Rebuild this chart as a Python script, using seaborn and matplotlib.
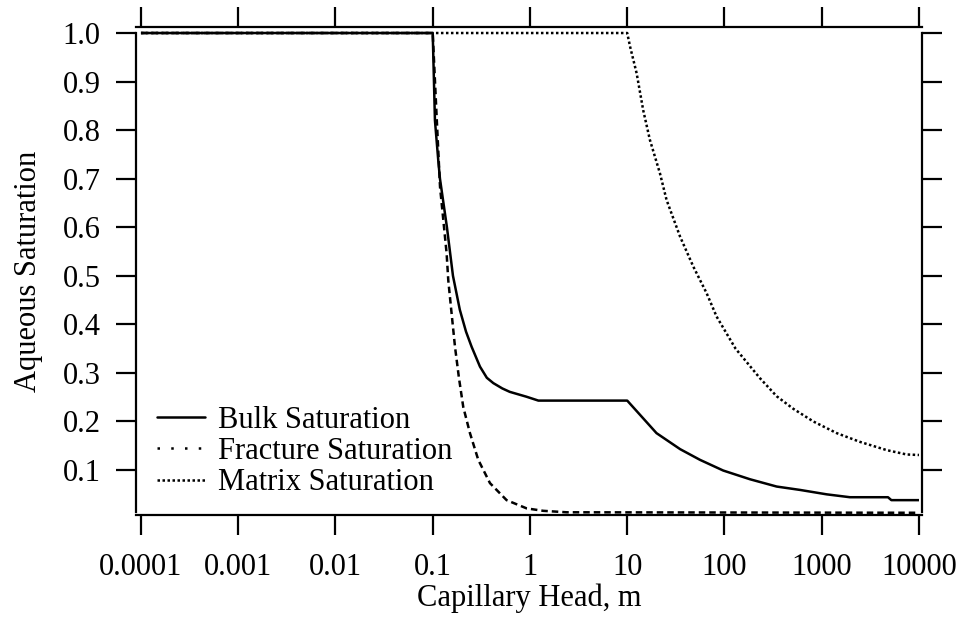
import matplotlib
matplotlib.use("Agg")
import matplotlib.pyplot as plt
from matplotlib.lines import Line2D
from matplotlib.ticker import FixedLocator, FixedFormatter, NullLocator
import seaborn as sns
import numpy as np
import pandas as pd

# ---------------- data ----------------
bulk_x = [0.0001, 0.1, 0.1054, 0.114, 0.1187, 0.14, 0.1615, 0.19, 0.22,
          0.251, 0.306, 0.36, 0.42, 0.52, 0.62, 0.92, 1.22, 10, 20, 35, 56, 97,
          183, 344, 600, 1120, 1950, 4800, 5200, 10000]
bulk_y = [1.0, 1.0, 0.82, 0.738, 0.70, 0.60, 0.50, 0.43, 0.385,
          0.354, 0.313, 0.29, 0.279, 0.268, 0.261, 0.251, 0.243, 0.243, 0.176,
          0.143, 0.121, 0.099, 0.081, 0.066, 0.059, 0.050, 0.044, 0.044, 0.038,
          0.038]

fracture_x = [0.0001, 0.1, 0.1096, 0.1189, 0.139, 0.1445, 0.155, 0.1694, 0.186,
              0.206, 0.2415, 0.294, 0.388, 0.575, 0.925, 1.37, 2.38, 10000]
fracture_y = [1.0, 1.0, 0.83, 0.683, 0.546, 0.491, 0.43, 0.354, 0.29,
              0.230, 0.176, 0.121, 0.073, 0.038, 0.021, 0.016, 0.013, 0.012]

matrix_x = [0.0001, 10, 10.7, 12.5, 14.6, 17.1, 21.7, 25.4, 34.9, 47.8, 65.6,
            83, 130, 232, 344, 511, 820, 1426, 2473, 4656, 7480, 10000]
matrix_y = [1.0, 1.0, 0.972, 0.917, 0.841, 0.780, 0.711, 0.656, 0.581, 0.519,
            0.464, 0.416, 0.35, 0.289, 0.252, 0.226, 0.200, 0.176, 0.158,
            0.141, 0.132, 0.131]

x_ticks = [0.0001, 0.001, 0.01, 0.1, 1, 10, 100, 1000, 10000]
x_tick_labels = ["0.0001", "0.001", "0.01", "0.1", "1", "10", "100", "1000", "10000"]
y_ticks = [0.1, 0.2, 0.3, 0.4, 0.5, 0.6, 0.7, 0.8, 0.9, 1.0]
y_tick_labels = ["0.1", "0.2", "0.3", "0.4", "0.5", "0.6", "0.7", "0.8", "0.9", "1.0"]

series_names = ["Bulk Saturation", "Fracture Saturation", "Matrix Saturation"]

# ---------------- style ----------------
sns.set_style("ticks")
plt.rcParams["font.family"] = ["Liberation Serif", "DejaVu Serif"]
plt.rcParams["font.size"] = 22
plt.rcParams["text.color"] = "black"
plt.rcParams["axes.labelcolor"] = "black"
plt.rcParams["xtick.color"] = "black"
plt.rcParams["ytick.color"] = "black"

fig = plt.figure(figsize=(9.66, 6.25), dpi=100)
W, H = 966, 625
ax = fig.add_axes([136 / W, 1 - 515 / H, (922 - 136) / W, (515 - 27) / H])

lw = 1.8
sns.lineplot(x=bulk_x, y=bulk_y, ax=ax, color="black", linewidth=lw,
             sort=False, estimator=None)
sns.lineplot(x=fracture_x, y=fracture_y, ax=ax, color="black", linewidth=lw,
             sort=False, estimator=None)
sns.lineplot(x=matrix_x, y=matrix_y, ax=ax, color="black", linewidth=lw,
             sort=False, estimator=None)
lines = ax.get_lines()
lines[1].set_dashes((2.6, 1.6))
lines[2].set_dashes((1.0, 1.0))
for ln in lines:
    ln.set_dash_capstyle("butt")
    ln.set_solid_capstyle("butt")

ax.set_xscale("log")
ax.set_xlim(10 ** -4.051, 10 ** 4.031)
ax.set_ylim(0.0074, 1.0124)

ax.xaxis.set_major_locator(FixedLocator(x_ticks))
ax.xaxis.set_major_formatter(FixedFormatter(x_tick_labels))
ax.xaxis.set_minor_locator(NullLocator())
ax.yaxis.set_major_locator(FixedLocator(y_ticks))
ax.yaxis.set_major_formatter(FixedFormatter(y_tick_labels))
ax.yaxis.set_minor_locator(NullLocator())

ax.tick_params(axis="both", which="major", direction="out", length=14.5,
               width=1.6, labelsize=22)
ax.tick_params(axis="x", top=True, labeltop=False, pad=13)
ax.tick_params(axis="y", right=True, labelright=False, pad=11)

for side in ["left", "right", "top", "bottom"]:
    ax.spines[side].set_visible(True)
    ax.spines[side].set_linewidth(1.6)
    ax.spines[side].set_color("black")
ax.spines["left"].set_bounds(0.0135, 1.0)
ax.spines["right"].set_bounds(0.0135, 1.0)

ax.set_xlabel("Capillary Head, m", fontsize=22, labelpad=1)
ax.set_ylabel("Aqueous Saturation", fontsize=22, labelpad=14)

handles = [
    Line2D([], [], color="black", linewidth=lw),
    Line2D([], [], color="black", linewidth=lw, dashes=(1.0, 4.5)),
    Line2D([], [], color="black", linewidth=lw, dashes=(1.0, 1.0)),
]
for h in handles:
    h.set_dash_capstyle("butt")
leg = ax.legend(handles, series_names, loc="lower left",
                bbox_to_anchor=(0.027, 0.036), frameon=False,
                fontsize=22, handlelength=1.55, handletextpad=0.45,
                labelspacing=0.08, borderpad=0, borderaxespad=0)

fig.savefig("out.png", dpi=100)
